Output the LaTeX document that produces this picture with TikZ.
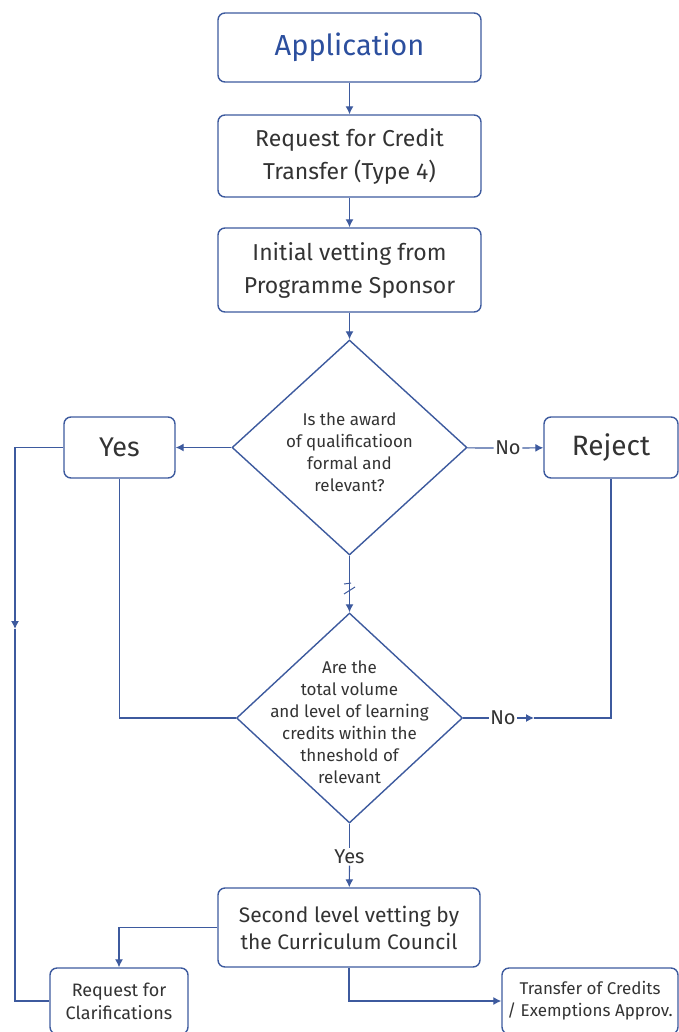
\documentclass[tikz,border=0pt]{standalone}
\usepackage{fontspec}
\setmainfont{Fira Sans}
\usetikzlibrary{shapes.geometric,arrows.meta}
\definecolor{flowblue}{HTML}{3D5A9E}
\definecolor{titleblue}{HTML}{2C4F9E}
\definecolor{txtgray}{HTML}{333333}

\begin{document}
\begin{tikzpicture}[x=1pt,y=-1pt,
    box/.style={draw=flowblue, line width=1.4pt, rounded corners=7pt, inner sep=0pt, align=center, text=txtgray},
    decision/.style={draw=flowblue, line width=1.4pt, diamond, inner sep=0pt},
    conn/.style={draw=flowblue, line width=1.2pt},
    arr/.style={conn, -{Latex[length=8pt,width=8pt]}},
    qtext/.style={align=center, text=txtgray, font=\fontsize{17}{22}\selectfont},
    lbl/.style={text=txtgray, inner sep=1.5pt, font=\fontsize{20}{22}\selectfont}]
    \useasboundingbox (0,0) rectangle (679,1032);

    % main column
    \node[box, minimum width=263pt, minimum height=69pt, text=titleblue, font=\fontsize{29}{32}\selectfont] (app) at (349.5,47.5) {Application};
    \node[box, minimum width=263pt, minimum height=82pt, font=\fontsize{23}{33}\selectfont] (req) at (349.5,156) {Request for Credit\\Transfer (Type 4)};
    \node[box, minimum width=263pt, minimum height=84pt, font=\fontsize{23}{33}\selectfont] (vet) at (349.5,270) {Initial vetting from\\Programme Sponsor};

    % decisions
    \node[decision, minimum width=235pt, minimum height=215pt] (q1) at (349.5,447.5) {};
    \node[qtext] (q1txt) at (349.5,452) {Is the award\\of qualificatioon\\formal and\\relevant?};
    \node[decision, minimum width=226pt, minimum height=210pt] (q2) at (349.5,718) {};
    \node[qtext] (q2txt) at (349.5,722) {Are the\\total volume\\and level of learning\\credits within the\\thneshold of\\relevant};

    % outcomes
    \node[box, minimum width=111pt, minimum height=61pt, font=\fontsize{27}{30}\selectfont] (yes) at (119.5,447.5) {Yes};
    \node[box, minimum width=134pt, minimum height=61pt, font=\fontsize{28}{30}\selectfont] (reject) at (611,447.5) {Reject};
    \node[box, minimum width=262pt, minimum height=79pt, font=\fontsize{21}{27}\selectfont] (second) at (349,927.5) {Second level vetting by\\the Curriculum Council};
    \node[box, minimum width=138pt, minimum height=66pt, font=\fontsize{18}{23}\selectfont] (clar) at (119,1001) {Request for\\Clarifications};
    \node[box, minimum width=176pt, minimum height=66pt, font=\fontsize{17}{22}\selectfont] (transfer) at (590,1001) {Transfer of Credits\\/ Exemptions Approv.};

    % labels on the lines
    \node[lbl] (no1) at (508,448) {No};
    \node[lbl] (no2) at (503,718) {No};
    \node[lbl] (yes2) at (349.5,857) {Yes};
    \coordinate (rtip) at (534,718);
    \coordinate (ltip) at (15,629);

    \draw[arr] (app) -- (req);
    \draw[arr] (req) -- (vet);
    \draw[arr] (vet) -- (q1);
    \draw[arr] (q1) -- (yes);
    \draw[conn] (q1) -- (no1);
    \draw[arr] (no1) -- (reject);
    \draw[arr] (q1) -- (q2);
    \draw[conn] (yes.south) |- (q2.west);
    \draw[conn] (q2) -- (no2);
    \draw[arr] (no2.east) -- (rtip);
    \draw[conn] (rtip) -| (reject.south);
    \draw[arr] (yes.west) -| (ltip);
    \draw[conn] (ltip) |- (clar.west);
    \draw[conn] (q2) -- (yes2);
    \draw[arr] (yes2) -- (second);
    \draw[arr] (second.west) -| (clar.north);
    \draw[arr] (second.south) |- (transfer.west);

    % small marks on the q1-q2 line
    \draw[conn, line width=1pt] (344,584) -- (351,583);
    \draw[conn, line width=1pt] (344,594) -- (355,587);
\end{tikzpicture}
\end{document}
